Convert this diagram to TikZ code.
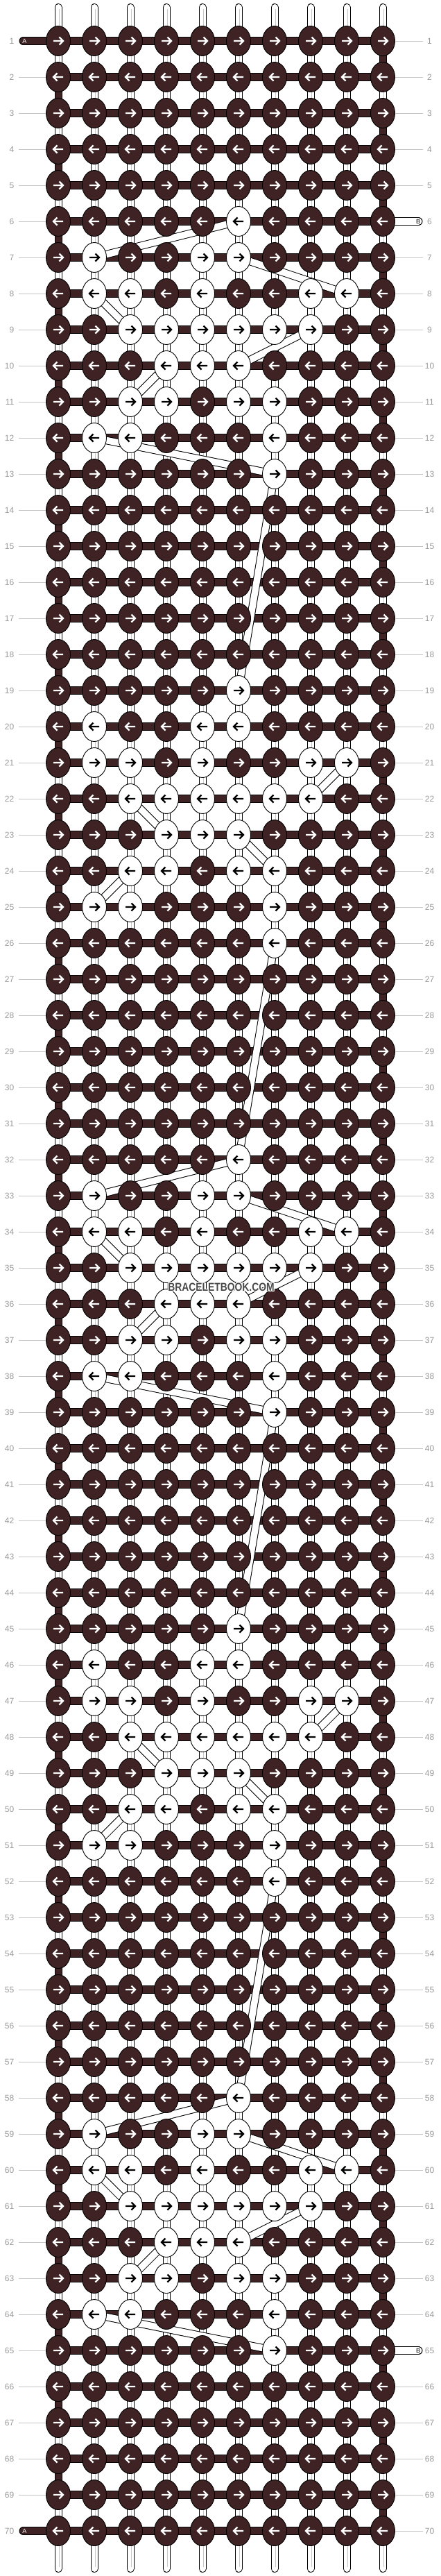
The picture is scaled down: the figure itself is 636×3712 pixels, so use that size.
\documentclass[tikz,border=0pt]{standalone}
\usepackage{fontspec}
\setmainfont{Liberation Sans}
\usetikzlibrary{shapes.geometric,backgrounds}

\definecolor{knotdark}{HTML}{3E2224}
\definecolor{labgray}{HTML}{9A9A9A}
\definecolor{leadgray}{HTML}{C4C4C4}
\definecolor{midgray}{HTML}{C8C8C8}
\definecolor{markgray}{HTML}{4A4A4A}

% white knots of the motif, 8 rows x 10 columns
\def\patt{{0,0,0,0,0,1,0,0,0,0,%
0,1,0,0,1,1,0,0,0,0,%
0,1,1,0,1,0,0,1,1,0,%
0,0,1,1,1,1,1,1,0,0,%
0,0,0,1,1,1,0,0,0,0,%
0,0,1,1,0,1,1,0,0,0,%
0,1,1,0,0,0,1,0,0,0,%
0,0,0,0,0,0,1,0,0,0}}

\begin{document}
\begin{tikzpicture}[x=1pt, y=-1pt,
    knot0/.style={ellipse, draw=black, line width=0.9pt, fill=knotdark,
      minimum width=35pt, minimum height=43pt, inner sep=0pt},
    knot1/.style={knot0, fill=white},
    arrow0/.style={draw=white, line width=2.2pt},
    arrow1/.style={draw=black, line width=2.2pt},
    rowlab/.style={font=\fontsize{12}{12}\selectfont, text=labgray, inner xsep=6.5pt, inner ysep=0pt},
    lead/.style={draw=leadgray, line width=0.9pt},
    strout/.style={draw=black, line width=11pt, line cap=round},
    strin/.style={draw=white, line width=9pt, line cap=round},
    strmid/.style={draw=midgray, line width=0.8pt},
    barout/.style={draw=black, line width=12pt},
    barin/.style={draw=knotdark, line width=10pt},
    turnout/.style={draw=black, line width=11pt},
    turnin/.style={draw=knotdark, line width=9pt},
    stripout/.style={draw=black, line width=11.5pt},
    stripin/.style={draw=white, line width=9.5pt},
    capfont/.style={font=\fontsize{9}{9}\selectfont, inner sep=0pt},
    wmark/.style={font=\fontsize{16.5}{16.5}\selectfont\bfseries, inner sep=0pt}
  ]
  \useasboundingbox (0,0) rectangle (636,3712);

  % knots
  \foreach \r in {1,...,70}{
    \pgfmathtruncatemacro\mo{mod(\r+7,13)}
    \pgfmathtruncatemacro\dir{1-2*mod(\r+1,2)}
    \foreach \c in {1,...,10}{
      \ifnum\mo<8 \pgfmathtruncatemacro\wk{\patt[\mo*10+\c-1]}\else\def\wk{0}\fi
      \node[knot\wk] (k-\r-\c) at ({84+52*(\c-1)},{59+52*(\r-1)}) {};
      \draw[arrow\wk, shift={(k-\r-\c.center)}, xscale=\dir]
        (-7,0) -- (7,0) (1.5,-5.5) -- (7,0) -- (1.5,5.5);
    }
    \node[rowlab, anchor=east] (lL-\r) at (27,{59+52*(\r-1)}) {\r};
    \node[rowlab] (lR-\r) at (619.5,{59+52*(\r-1)}) {\r};
  }
  \coordinate (rend) at (610,0);
  \foreach \r in {2,...,69}
    \draw[lead] (lL-\r.east) -- (k-\r-1.west);
  \foreach \r in {1,...,70}{
    \ifnum\r=6 \else\ifnum\r=65 \else
      \draw[lead] (k-\r-10.east) -- (k-\r-10.east -| rend);
    \fi\fi
  }

  % cap letters
  \foreach \r in {1,70}{
    \coordinate (aE-\r) at (33.5,{59+52*(\r-1)});
    \node[capfont, text=white] (capA-\r) at (35.5,{59+52*(\r-1)}) {A};
  }
  \foreach \r in {6,65}{
    \coordinate (bE-\r) at (603.5,{59+52*(\r-1)});
    \node[capfont, text=black] (capB-\r) at (603,{59+52*(\r-1)}) {B};
  }

  % watermark
  \foreach \dx/\dy in {-1/0,1/0,0/-1,0/1,-1/-1,1/1,-1/1,1/-1}
    \node[wmark, text=white] at (319+\dx,1855+\dy) {\scalebox{0.84}[1]{BRACELETBOOK.COM}};
  \node[wmark, text=markgray] (wm) at (319,1855) {\scalebox{0.84}[1]{BRACELETBOOK.COM}};

  \begin{pgfonlayer}{background}
    \fill[white] (0,0) rectangle (636,3712);
    % base strings
    \foreach \c in {1,...,10}{
      \coordinate (top-\c) at ({84+52*(\c-1)},10.5);
      \coordinate (bot-\c) at ({84+52*(\c-1)},3701.5);
      \draw[strout] (top-\c) -- (bot-\c);
      \draw[strin] (top-\c) -- (bot-\c);
      \draw[strmid] ([shift={(1.2,3)}]top-\c) -- ([shift={(1.2,-3)}]bot-\c);
    }
    % string A rows and turns
    \foreach \r in {1,...,70}{
      \draw[barout] (k-\r-1.center) -- (k-\r-10.center);
      \draw[barin] (k-\r-1.center) -- (k-\r-10.center);
    }
    \foreach \r in {1,3,...,69}{
      \pgfmathtruncatemacro\rn{\r+1}
      \draw[turnout] (k-\r-10.center) -- (k-\rn-10.center);
      \draw[turnin] (k-\r-10.center) -- (k-\rn-10.center);
    }
    \foreach \r in {2,4,...,68}{
      \pgfmathtruncatemacro\rn{\r+1}
      \draw[turnout] (k-\r-1.center) -- (k-\rn-1.center);
      \draw[turnin] (k-\r-1.center) -- (k-\rn-1.center);
    }
    % string B behind the knots
    \foreach \s in {6,32,58}{
      \foreach \a/\p/\b/\q in {0/6/1/2, 1/6/2/9, 2/2/3/3, 3/8/4/6, 4/4/5/3, 6/2/7/7}{
        \pgfmathtruncatemacro\ra{\s+\a}
        \pgfmathtruncatemacro\rb{\s+\b}
        \draw[stripout] (k-\ra-\p.center) -- (k-\rb-\q.center);
        \draw[stripin] (k-\ra-\p.center) -- (k-\rb-\q.center);
      }
    }
    \foreach \s in {19,45}{
      \foreach \a/\p/\b/\q in {2/9/3/8, 3/3/4/4, 4/6/5/7, 5/3/6/2}{
        \pgfmathtruncatemacro\ra{\s+\a}
        \pgfmathtruncatemacro\rb{\s+\b}
        \draw[stripout] (k-\ra-\p.center) -- (k-\rb-\q.center);
        \draw[stripin] (k-\ra-\p.center) -- (k-\rb-\q.center);
      }
    }
    \foreach \s in {13,26,39,52}{
      \pgfmathtruncatemacro\rb{\s+6}
      \draw[stripout] (k-\s-7.center) -- (k-\rb-6.center);
      \draw[stripin] (k-\s-7.center) -- (k-\rb-6.center);
    }
    % ends of A and B
    \foreach \r in {1,70}{
      \draw[barout, line cap=round] (k-\r-1.center) -- (aE-\r);
      \draw[barin, line cap=round] (k-\r-1.center) -- (aE-\r);
    }
    \foreach \r in {6,65}{
      \draw[barout, line cap=round] (k-\r-10.center) -- (bE-\r);
      \draw[draw=white, line width=10pt, line cap=round] (k-\r-10.center) -- (bE-\r);
    }
  \end{pgfonlayer}
\end{tikzpicture}
\end{document}
